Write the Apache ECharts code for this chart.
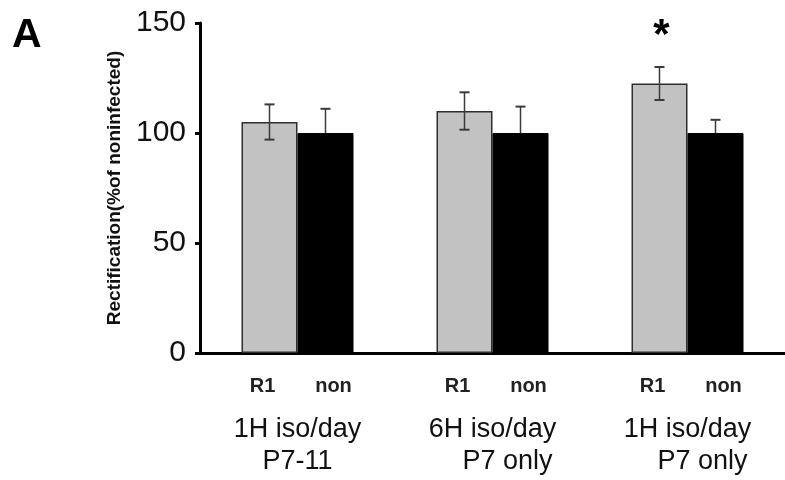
<!DOCTYPE html>
<html>
<head>
<meta charset="utf-8">
<script src="https://cdn.jsdelivr.net/npm/echarts@6/dist/echarts.min.js"></script>
<style>
html,body{margin:0;padding:0;background:#fff;}
#chart{width:785px;height:480px;}
</style>
</head>
<body>
<div id="chart"></div>
<script>
// ---- data ----
const categories = ['1H iso/day\nP7-11', '6H iso/day\n    P7 only', '1H iso/day\n    P7 only'];
const seriesNames = ['R1', 'non'];
const r1Values = [105, 110, 122.5];
const r1Errors = [8, 8.5, 7.5];
const nonValues = [100, 100, 100];
const nonErrors = [11, 12, 6];
const significance = [null, null, 147]; // asterisk position (R1 bars)
const yMin = 0, yMax = 150, yInterval = 50;
const yAxisTitle = 'Rectification(%of noninfected)';
const panelLabel = 'A';

// ---- styles ----
const FONT = 'Liberation Sans, Arial, Helvetica, sans-serif';
const BAR_W = 56;
const errColor = '#3a3a3a';

const errData = [];
r1Values.forEach((v, i) => errData.push([i, v, r1Errors[i], -1]));
nonValues.forEach((v, i) => errData.push([i, v, nonErrors[i], 1]));
const starData = [];
significance.forEach((v, i) => { if (v != null) starData.push([i, v, -1]); });

const chart = echarts.init(document.getElementById('chart'), null, {renderer: 'canvas'});
chart.setOption({
  animation: false,
  backgroundColor: '#fff',
  grid: {left: 200, top: 23, width: 590, bottom: 127, containLabel: false},
  graphic: [{
    type: 'text', left: 12, top: 15,
    style: {text: panelLabel, font: 'bold 41px ' + FONT, fill: '#000'}
  }],
  xAxis: {
    type: 'category',
    data: categories,
    axisLine: {show: true, lineStyle: {color: '#000', width: 3}},
    axisTick: {show: false},
    axisLabel: {fontFamily: FONT, fontSize: 27, lineHeight: 32, color: '#111', margin: 61, interval: 0}
  },
  yAxis: {
    type: 'value', min: yMin, max: yMax, interval: yInterval,
    name: yAxisTitle, nameLocation: 'middle', nameGap: 76,
    nameTextStyle: {fontFamily: FONT, fontSize: 19, fontWeight: 'bold', color: '#111'},
    axisLine: {show: true, lineStyle: {color: '#000', width: 3}},
    axisTick: {show: true, length: 5, lineStyle: {color: '#000', width: 3}},
    axisLabel: {fontFamily: FONT, fontSize: 30, color: '#111', margin: 14},
    splitLine: {show: false}
  },
  series: [
    {
      name: seriesNames[0], type: 'bar', data: r1Values, barWidth: BAR_W, barGap: '0%',
      itemStyle: {color: '#c2c2c2', borderColor: '#2e2e2e', borderWidth: 1.5},
      label: {show: true, position: 'bottom', distance: 23, offset: [-7, 0], formatter: seriesNames[0],
        fontFamily: FONT, fontSize: 20, fontWeight: 'bold', color: '#222'}
    },
    {
      name: seriesNames[1], type: 'bar', data: nonValues, barWidth: BAR_W, barGap: '0%',
      itemStyle: {color: '#000', borderColor: '#000', borderWidth: 1},
      label: {show: true, position: 'bottom', distance: 23, offset: [8, 0], formatter: seriesNames[1],
        fontFamily: FONT, fontSize: 20, fontWeight: 'bold', color: '#222'}
    },
    {
      type: 'custom', z: 5, silent: true,
      data: errData,
      encode: {x: 0, y: 1},
      renderItem: function (params, api) {
        const c = api.value(0), v = api.value(1), e = api.value(2), side = api.value(3);
        const top = api.coord([c, v + e]);
        const mid = api.coord([c, v]);
        const bot = api.coord([c, v - e]);
        const x = top[0] + side * BAR_W / 2;
        const cap = 5;
        const lowColor = side > 0 ? '#000' : errColor;
        const st = {stroke: errColor, lineWidth: 1.5};
        return {
          type: 'group',
          children: [
            {type: 'line', shape: {x1: x, y1: top[1], x2: x, y2: mid[1]}, style: st},
            {type: 'line', shape: {x1: x, y1: mid[1], x2: x, y2: bot[1]}, style: {stroke: lowColor, lineWidth: 1.5}},
            {type: 'line', shape: {x1: x - cap, y1: top[1], x2: x + cap, y2: top[1]}, style: {stroke: errColor, lineWidth: 2}},
            {type: 'line', shape: {x1: x - cap, y1: bot[1], x2: x + cap, y2: bot[1]}, style: {stroke: lowColor, lineWidth: 2}}
          ]
        };
      }
    },
    {
      type: 'custom', z: 6, silent: true,
      data: starData,
      encode: {x: 0, y: 1},
      renderItem: function (params, api) {
        const p = api.coord([api.value(0), api.value(1)]);
        const x = p[0] + api.value(2) * BAR_W / 2 + 2;
        return {
          type: 'text',
          style: {x: x, y: p[1] + 7, text: '*', font: 'bold 42px ' + FONT, fill: '#000',
            align: 'center', verticalAlign: 'middle'}
        };
      }
    }
  ]
});
</script>
</body>
</html>
